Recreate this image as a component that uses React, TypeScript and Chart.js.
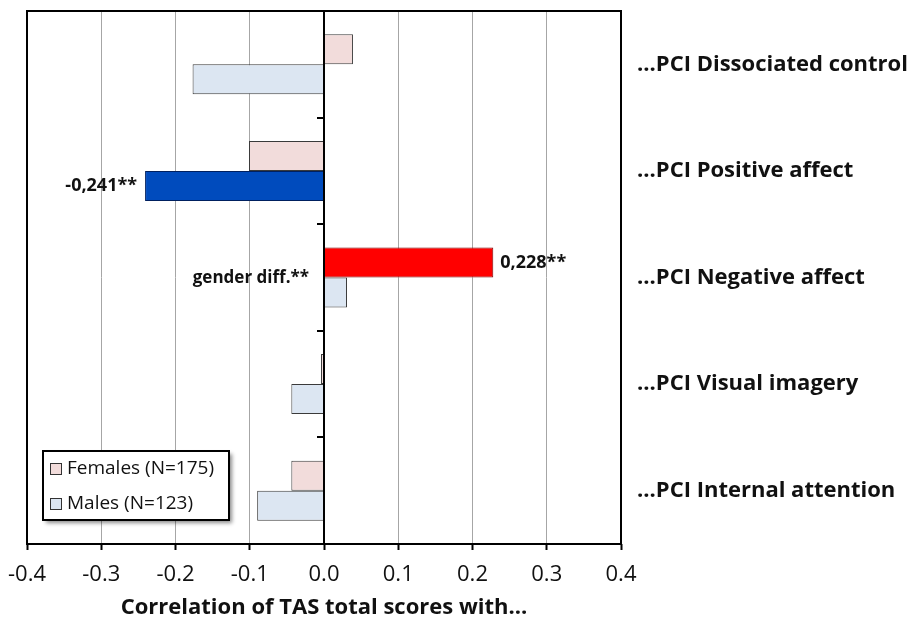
import React, { useEffect, useRef } from 'react';
import { Chart, registerables } from 'chart.js';

Chart.register(...registerables);

// Category labels (right-hand axis), top to bottom
const categories = [
  '...PCI Dissociated control',
  '...PCI Positive affect',
  '...PCI Negative affect',
  '...PCI Visual imagery',
  '...PCI Internal attention',
];

// Correlation coefficients per group
const femaleValues = [0.039, -0.101, 0.228, -0.004, -0.044];
const maleValues = [-0.177, -0.241, 0.031, -0.044, -0.09];

const femaleLabel = 'Females (N=175)';
const maleLabel = 'Males (N=123)';

// Axis ticks
const xTickValues = [-0.4, -0.3, -0.2, -0.1, 0, 0.1, 0.2, 0.3, 0.4];
const xTitle = 'Correlation of TAS total scores with...';

// Bar colours (significant correlations highlighted)
const femaleFill = ['#f2dcdb', '#f2dcdb', '#ff0000', '#f2dcdb', '#f2dcdb'];
const femaleEdge = ['#3a3a3a', '#3a3a3a', '#7a0000', '#3a3a3a', '#3a3a3a'];
const maleFill = ['#dce6f2', '#004bbd', '#dce6f2', '#dce6f2', '#dce6f2'];
const maleEdge = ['#3a3a3a', '#00205f', '#3a3a3a', '#3a3a3a', '#3a3a3a'];

// Significant coefficients printed next to their bars
const valueNotes = [
  { dataset: 1, index: 1 },
  { dataset: 0, index: 2 },
];
const significanceMark = '**';
const genderNote = { index: 2, text: 'gender diff.**' };

const FONT = '"Open Sans", "DejaVu Sans", sans-serif';

const formatCoef = (v: number) => v.toFixed(3).replace('.', ',');

const overlayPlugin = {
  id: 'overlay',
  afterDatasetsDraw(chart: any) {
    const { ctx, chartArea: a, scales } = chart;
    const xs = scales.x;
    const ys = scales.y;
    const x0 = xs.getPixelForValue(0);
    ctx.save();
    ctx.strokeStyle = '#000';
    ctx.lineWidth = 2;
    ctx.strokeRect(a.left, a.top, a.right - a.left, a.bottom - a.top);
    ctx.beginPath();
    ctx.moveTo(x0, a.top);
    ctx.lineTo(x0, a.bottom);
    ctx.stroke();
    // separators between categories on the zero axis
    for (let i = 0; i < categories.length - 1; i++) {
      const yy = Math.round((ys.getPixelForValue(i) + ys.getPixelForValue(i + 1)) / 2);
      ctx.beginPath();
      ctx.moveTo(x0 - 7, yy);
      ctx.lineTo(x0, yy);
      ctx.stroke();
    }
    ctx.restore();
  },
  afterDraw(chart: any) {
    const { ctx, chartArea: a, scales } = chart;
    const xs = scales.x;
    const ys = scales.y;
    const x0 = xs.getPixelForValue(0);
    const series = [femaleValues, maleValues];

    ctx.save();
    ctx.fillStyle = '#111';
    ctx.textBaseline = 'middle';
    ctx.font = `bold 18px ${FONT}`;
    valueNotes.forEach((n) => {
      const el = chart.getDatasetMeta(n.dataset).data[n.index];
      const v = series[n.dataset][n.index];
      const text = formatCoef(v) + significanceMark;
      if (v < 0) {
        ctx.textAlign = 'right';
        ctx.fillText(text, el.x - 8, el.y);
      } else {
        ctx.textAlign = 'left';
        ctx.fillText(text, el.x + 7, el.y);
      }
    });
    ctx.font = `bold 17px ${FONT}`;
    ctx.textAlign = 'right';
    ctx.fillText(genderNote.text, x0 - 15, ys.getPixelForValue(genderNote.index) + 1);

    // legend box
    const lx = a.left + 16;
    const lw = 186;
    const lh = 69;
    const ly = a.bottom - 24 - lh;
    ctx.shadowColor = 'rgba(0,0,0,0.45)';
    ctx.shadowBlur = 4;
    ctx.shadowOffsetX = 3;
    ctx.shadowOffsetY = 3;
    ctx.fillStyle = '#fff';
    ctx.fillRect(lx, ly, lw, lh);
    ctx.shadowColor = 'transparent';
    ctx.strokeStyle = '#000';
    ctx.lineWidth = 2;
    ctx.strokeRect(lx, ly, lw, lh);
    const items = [
      { label: femaleLabel, fill: femaleFill[0] },
      { label: maleLabel, fill: maleFill[0] },
    ];
    ctx.font = `19px ${FONT}`;
    ctx.textAlign = 'left';
    items.forEach((it, i) => {
      const cy = ly + 18 + i * 35;
      ctx.fillStyle = it.fill;
      ctx.fillRect(lx + 7.5, cy - 5.5, 11, 11);
      ctx.strokeStyle = '#333';
      ctx.lineWidth = 1;
      ctx.strokeRect(lx + 7.5, cy - 5.5, 11, 11);
      ctx.fillStyle = '#111';
      ctx.fillText(it.label, lx + 24, cy);
    });
    ctx.restore();
  },
};

export default function App() {
  const canvasRef = useRef<HTMLCanvasElement | null>(null);

  useEffect(() => {
    const canvas = canvasRef.current;
    if (!canvas) return;
    const chart = new Chart(canvas, {
      type: 'bar',
      data: {
        labels: categories,
        datasets: [
          {
            label: femaleLabel,
            data: femaleValues,
            backgroundColor: femaleFill,
            borderColor: femaleEdge,
            borderWidth: 1,
            categoryPercentage: 0.563,
            barPercentage: 1,
          },
          {
            label: maleLabel,
            data: maleValues,
            backgroundColor: maleFill,
            borderColor: maleEdge,
            borderWidth: 1,
            categoryPercentage: 0.563,
            barPercentage: 1,
          },
        ],
      },
      options: {
        indexAxis: 'y',
        responsive: false,
        animation: false,
        devicePixelRatio: 1,
        layout: { padding: { left: 27, top: 11, right: 0, bottom: 0 } },
        plugins: {
          legend: { display: false },
          tooltip: { enabled: false },
          title: { display: false },
        },
        scales: {
          x: {
            type: 'linear',
            position: 'bottom',
            min: -0.4,
            max: 0.4,
            afterBuildTicks: (scale: any) => {
              scale.ticks = xTickValues.map((v) => ({ value: v }));
            },
            afterFit: (scale: any) => {
              scale.height = 77;
              scale.paddingLeft = 0;
              scale.paddingRight = 0;
            },
            grid: {
              color: '#a6a6a6',
              lineWidth: 1,
              tickLength: 6,
              tickColor: '#000',
              tickWidth: 2,
            },
            border: { display: false },
            ticks: {
              color: '#111',
              font: { family: FONT, size: 22 },
              padding: 12,
              maxRotation: 0,
              callback: (v: any) => Number(v).toFixed(1),
            },
            title: {
              display: true,
              text: xTitle,
              color: '#111',
              font: { family: FONT, size: 22, weight: 'bold' },
              padding: { top: 0, bottom: 0 },
            },
          },
          y: {
            type: 'category',
            position: 'right',
            afterFit: (scale: any) => {
              scale.width = 292;
              scale.paddingTop = 0;
              scale.paddingBottom = 0;
            },
            grid: { display: false, drawTicks: false },
            border: { display: false },
            ticks: {
              color: '#111',
              font: { family: FONT, size: 22, weight: 'bold' },
              padding: 16,
            },
          },
        },
      },
      plugins: [overlayPlugin],
    });
    return () => chart.destroy();
  }, []);

  return (
    <div style={{ position: 'fixed', left: 0, top: 0, width: 913, height: 621, background: '#fff' }}>
      <canvas ref={canvasRef} width={913} height={621} style={{ display: 'block' }} />
    </div>
  );
}
